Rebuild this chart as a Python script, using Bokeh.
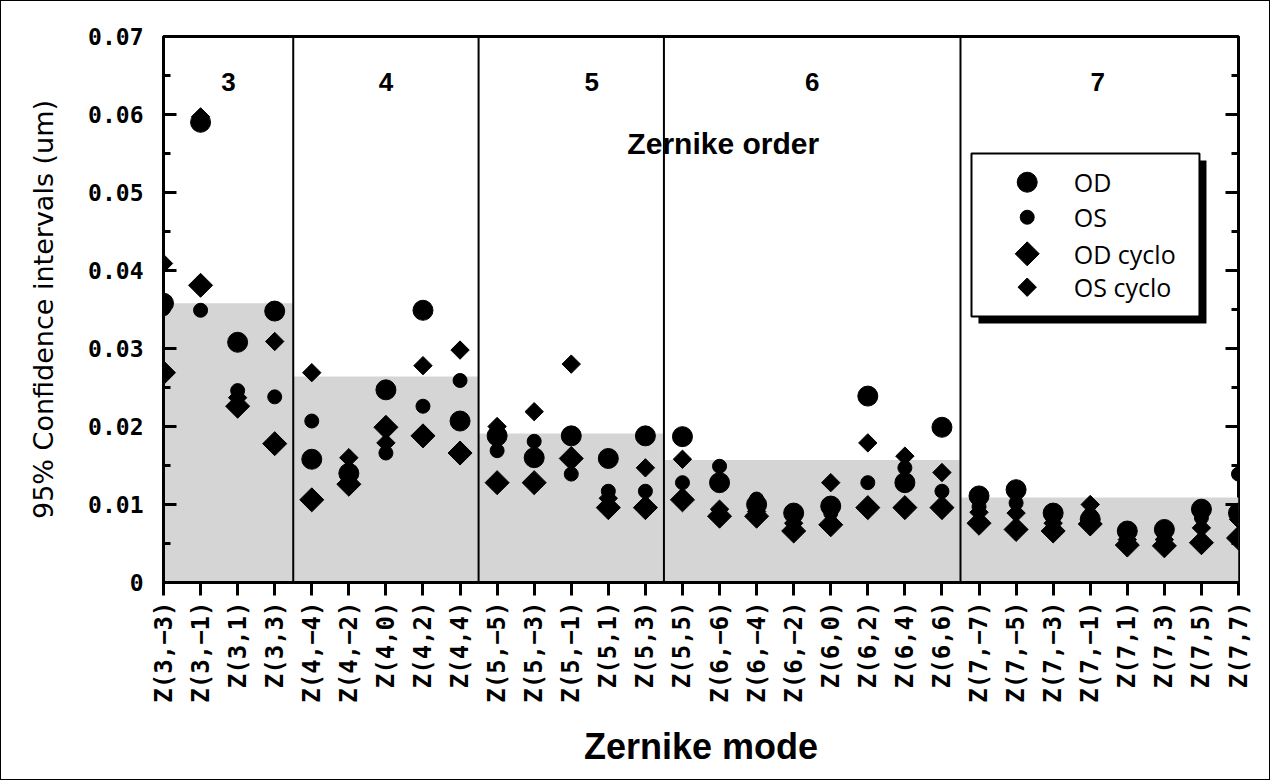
import numpy as np
from bokeh.plotting import figure
from bokeh.models import Range1d, FixedTicker, Span, Label, BoxAnnotation
from bokeh.embed import file_html
from bokeh.resources import INLINE

# ---------------- data ----------------
modes = ["Z(3,−3)", "Z(3,−1)", "Z(3,1)", "Z(3,3)",
         "Z(4,−4)", "Z(4,−2)", "Z(4,0)", "Z(4,2)", "Z(4,4)",
         "Z(5,−5)", "Z(5,−3)", "Z(5,−1)", "Z(5,1)", "Z(5,3)", "Z(5,5)",
         "Z(6,−6)", "Z(6,−4)", "Z(6,−2)", "Z(6,0)", "Z(6,2)", "Z(6,4)", "Z(6,6)",
         "Z(7,−7)", "Z(7,−5)", "Z(7,−3)", "Z(7,−1)", "Z(7,1)", "Z(7,3)", "Z(7,5)", "Z(7,7)"]

od = [0.0358, 0.0590, 0.0308, 0.0348,
      0.0158, 0.0140, 0.0247, 0.0349, 0.0207,
      0.0188, 0.0160, 0.0188, 0.0159, 0.0188, 0.0187,
      0.0128, 0.0100, 0.0089, 0.0098, 0.0239, 0.0128, 0.0199,
      0.0111, 0.0119, 0.0089, 0.0081, 0.0066, 0.0068, 0.0094, 0.0089]

os_ = [0.0351, 0.0349, 0.0246, 0.0238,
       0.0207, 0.0137, 0.0166, 0.0226, 0.0259,
       0.0169, 0.0181, 0.0139, 0.0117, 0.0117, 0.0128,
       0.0149, 0.0107, 0.0086, 0.0089, 0.0128, 0.0147, 0.0117,
       0.0097, 0.0102, 0.0081, 0.0087, 0.0062, 0.0063, 0.0083, 0.0139]

od_cyclo = [0.0269, 0.0381, 0.0226, 0.0178,
            0.0106, 0.0126, 0.0199, 0.0188, 0.0166,
            0.0128, 0.0128, 0.0159, 0.0096, 0.0096, 0.0106,
            0.0085, 0.0085, 0.0066, 0.0074, 0.0096, 0.0096, 0.0096,
            0.0076, 0.0068, 0.0066, 0.0075, 0.0048, 0.0047, 0.0051, 0.0057]

os_cyclo = [0.0409, 0.0597, 0.0237, 0.0309,
            0.0269, 0.0160, 0.0179, 0.0278, 0.0298,
            0.0200, 0.0219, 0.0280, 0.0108, 0.0147, 0.0158,
            0.0094, 0.0091, 0.0076, 0.0128, 0.0179, 0.0162, 0.0141,
            0.0090, 0.0089, 0.0076, 0.0100, 0.0055, 0.0055, 0.0070, 0.0081]

orders = ["3", "4", "5", "6", "7"]
order_levels = [0.0358, 0.0264, 0.0191, 0.0157, 0.0109]

y_ticks = [0, 0.01, 0.02, 0.03, 0.04, 0.05, 0.06, 0.07]
y_tick_labels = ["0", "0.01", "0.02", "0.03", "0.04", "0.05", "0.06", "0.07"]
y_minor_ticks = [0.005, 0.015, 0.025, 0.035, 0.045, 0.055, 0.065]

series_names = ["OD", "OS", "OD cyclo", "OS cyclo"]

# marker styles per series: (marker, size, angle)
styles = [("circle", 20, 0.0), ("circle", 14, 0.0),
          ("square", 17, np.pi / 4), ("square", 13, np.pi / 4)]

# ---------------- figure ----------------
n = len(modes)
x = list(range(n))

p = figure(width=1270, height=780, output_backend="svg", toolbar_location=None,
           x_range=Range1d(0, n - 1), y_range=Range1d(0, 0.07),
           min_border_left=162, min_border_right=33, min_border_top=35,
           min_border_bottom=199)
p.grid.visible = False
p.outline_line_color = "black"
p.outline_line_width = 3
p.outline_line_alpha = 1
p.background_fill_color = "white"
p.border_fill_color = "white"
p.styles = {"border": "1px solid black", "box-sizing": "border-box"}

# shaded blocks per Zernike order
edges = [0, 3.5, 8.5, 13.5, 21.5, n - 1]
p.quad(left=edges[:-1], right=edges[1:], bottom=0, top=order_levels,
       fill_color="#d5d5d5", line_color=None)

for e in edges[1:-1]:
    p.add_layout(Span(location=e, dimension="height", line_color="black",
                      line_width=2))

# right-hand frame ticks (pointing inward)
p.ray(x=[n - 1] * len(y_ticks), y=y_ticks, length=13, length_units="screen",
      angle=np.pi, line_color="black", line_width=3)
p.ray(x=[n - 1] * len(y_minor_ticks), y=y_minor_ticks, length=7,
      length_units="screen", angle=np.pi, line_color="black", line_width=3)

# order labels
order_x = [1.75, 6.0, 11.55, 17.5, 25.2]
for lab, xx in zip(orders, order_x):
    p.add_layout(Label(x=xx, y=0.0642, text=lab, text_align="center",
                       text_baseline="middle", text_font="Liberation Sans",
                       text_font_style="bold", text_font_size="26px",
                       text_color="black"))
p.add_layout(Label(x=15.1, y=0.0563, text="Zernike order", text_align="center",
                   text_baseline="middle", text_font="Liberation Sans",
                   text_font_style="bold", text_font_size="30px",
                   text_color="black"))

# data markers
series = [od, os_, od_cyclo, os_cyclo]
for vals, (mk, sz, ang) in zip(series, styles):
    p.scatter(x, vals, marker=mk, size=sz, angle=ang, color="black")

# ---------------- axes ----------------
xa = p.xaxis[0]
xa.ticker = FixedTicker(ticks=x)
xa.major_label_overrides = {i: m for i, m in zip(x, modes)}
xa.major_label_orientation = np.pi / 2
xa.major_label_text_font = "DejaVu Sans Mono"
xa.major_label_text_font_style = "bold"
xa.major_label_text_font_size = "24px"
xa.major_label_text_color = "black"
xa.major_label_standoff = 6
xa.major_tick_out = 13
xa.major_tick_in = 0
xa.major_tick_line_width = 3
xa.major_tick_line_color = "black"
xa.minor_tick_line_color = None
xa.axis_line_width = 3
xa.axis_line_color = "black"
xa.axis_label = "Zernike mode"
xa.axis_label_text_font = "Liberation Sans"
xa.axis_label_text_font_style = "bold"
xa.axis_label_text_font_size = "36px"
xa.axis_label_text_color = "black"
xa.axis_label_standoff = 20

ya = p.yaxis[0]
ya.ticker = FixedTicker(ticks=y_ticks, minor_ticks=y_minor_ticks)
ya.major_label_overrides = {t: l for t, l in zip(y_ticks, y_tick_labels)}
ya.major_label_text_font = "DejaVu Sans Mono"
ya.major_label_text_font_style = "bold"
ya.major_label_text_font_size = "23px"
ya.major_label_text_color = "black"
ya.major_label_standoff = 20
ya.major_tick_in = 13
ya.major_tick_out = 0
ya.minor_tick_in = 7
ya.minor_tick_out = 0
ya.major_tick_line_width = 3
ya.minor_tick_line_width = 3
ya.major_tick_line_color = "black"
ya.minor_tick_line_color = "black"
ya.axis_line_width = 3
ya.axis_line_color = "black"
ya.axis_label = "95% Confidence intervals (um)"
ya.axis_label_text_font = "DejaVu Sans"
ya.axis_label_text_font_style = "normal"
ya.axis_label_text_font_size = "27px"
ya.axis_label_text_color = "black"
ya.axis_label_standoff = 26

# ---------------- legend (box with drop shadow) ----------------
p.add_layout(BoxAnnotation(left=21.985, right=28.136, top=0.0541, bottom=0.0332,
                           fill_color="black", fill_alpha=1, line_color=None,
                           level="underlay"))
p.add_layout(BoxAnnotation(left=21.797, right=27.947, top=0.0550, bottom=0.0341,
                           fill_color="white", fill_alpha=1, line_color="black",
                           line_width=2, line_alpha=1, level="underlay"))
leg_x = 23.30
leg_tx = 24.556
leg_rows = [0.05132, 0.04683, 0.04214, 0.03786]
for name, (mk, sz, ang), ly in zip(series_names, styles, leg_rows):
    p.scatter([leg_x], [ly], marker=mk, size=sz, angle=ang, color="black")
    p.add_layout(Label(x=leg_tx, y=ly, text=name, text_baseline="middle",
                       text_align="left", text_font="Open Sans",
                       text_font_size="25px", text_color="black"))

open("out.html", "w").write(file_html(p, INLINE))
